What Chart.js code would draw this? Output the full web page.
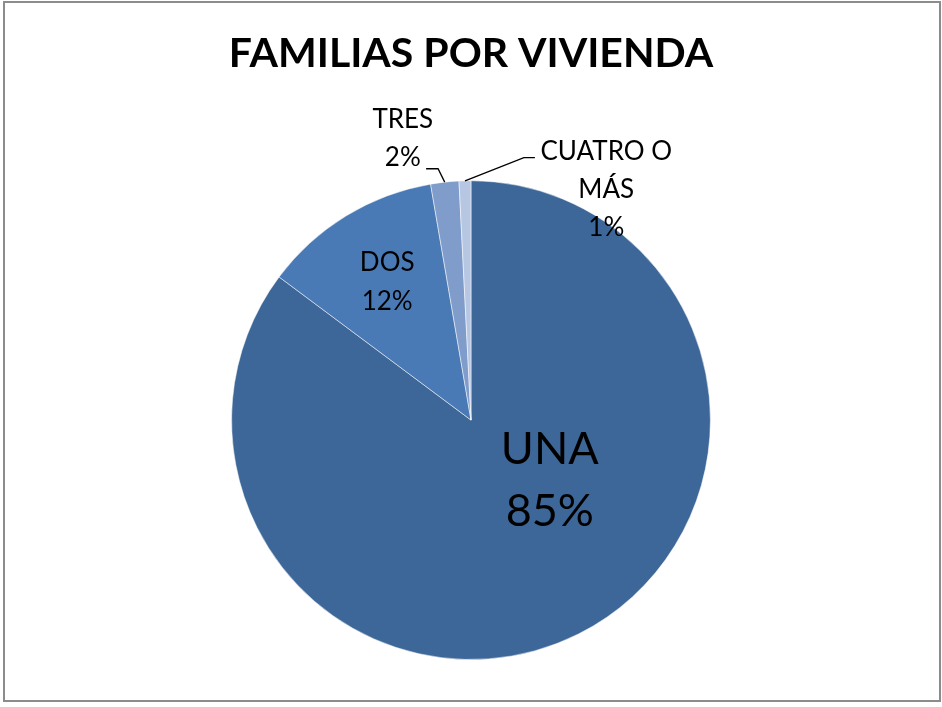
<!DOCTYPE html>
<html>
<head>
<meta charset="utf-8">
<style>
    html, body { margin: 0; padding: 0; background: #ffffff; }
    #wrap { width: 942px; height: 707px; position: relative; }
</style>
<script src="https://cdn.jsdelivr.net/npm/chart.js@4/dist/chart.umd.min.js"></script>
</head>
<body>
<div id="wrap"><canvas id="familiasChart" width="942" height="707"></canvas></div>
<script>
const categories = ['UNA', 'DOS', 'TRES', 'CUATRO O MÁS'];
const labelLines = [['UNA'], ['DOS'], ['TRES'], ['CUATRO O', 'MÁS']];
const values = [85.2, 12.1, 1.9, 0.8];
const sliceColors = ['#3d6798', '#4a7ab5', '#7f9ccb', '#b7c7e3'];

const FONT = 'Lato, "Open Sans", sans-serif';

// label placement, in units of the pie radius, relative to the pie centre
const placements = [
    { dx: 0.329, dy: 0.254, size: 45, lineHeight: 62 },
    { dx: -0.35, dy: -0.575, size: 26, lineHeight: 39 },
    { dx: -0.285, dy: -1.175, size: 26, lineHeight: 38, leader: [[-0.1375, -1.05], [-0.1875, -1.05]] },
    { dx: 0.565, dy: -0.9625, size: 26, lineHeight: 38, leader: [[0.221, -1.096], [0.267, -1.096]] }
];

const frame = {
    id: 'frame',
    beforeDraw(chart) {
        const ctx = chart.ctx;
        ctx.save();
        ctx.fillStyle = '#ffffff';
        ctx.fillRect(0, 0, chart.width, chart.height);
        ctx.strokeStyle = '#8c8c8c';
        ctx.lineWidth = 2;
        ctx.strokeRect(4, 2, 936, 699);
        ctx.restore();
    }
};

const sliceLabels = {
    id: 'sliceLabels',
    afterDatasetsDraw(chart) {
        const ctx = chart.ctx;
        const total = values.reduce((a, b) => a + b, 0);
        chart.getDatasetMeta(0).data.forEach((arc, i) => {
            const p = arc.getProps(['x', 'y', 'startAngle', 'endAngle', 'outerRadius'], true);
            const r = p.outerRadius;
            const spot = placements[i];
            ctx.save();
            if (spot.leader) {
                const mid = (p.startAngle + p.endAngle) / 2;
                ctx.beginPath();
                ctx.moveTo(p.x + Math.cos(mid) * r, p.y + Math.sin(mid) * r);
                spot.leader.forEach(([lx, ly]) => ctx.lineTo(p.x + lx * r, p.y + ly * r));
                ctx.strokeStyle = '#000000';
                ctx.lineWidth = 1.3;
                ctx.stroke();
            }
            const lines = labelLines[i].concat([Math.round(values[i] / total * 100) + '%']);
            const cx = p.x + spot.dx * r;
            const cy = p.y + spot.dy * r;
            ctx.fillStyle = '#000000';
            ctx.font = spot.size + 'px ' + FONT;
            ctx.textAlign = 'center';
            ctx.textBaseline = 'middle';
            lines.forEach((text, k) => {
                const ly = cy + (k - (lines.length - 1) / 2) * spot.lineHeight;
                ctx.fillText(text, cx, ly);
            });
            ctx.restore();
        });
    }
};

new Chart(document.getElementById('familiasChart'), {
    type: 'pie',
    data: {
        labels: categories,
        datasets: [{
            data: values,
            backgroundColor: sliceColors,
            borderColor: 'rgba(255,255,255,0.5)',
            borderWidth: 1
        }]
    },
    options: {
        responsive: false,
        animation: false,
        layout: { padding: { top: 0, bottom: 47, left: 0, right: 0 } },
        plugins: {
            legend: { display: false },
            tooltip: { enabled: false },
            title: {
                display: true,
                text: 'FAMILIAS POR VIVIENDA',
                color: '#000000',
                font: { family: FONT, size: 41, weight: 'bold', lineHeight: 1.2 },
                padding: { top: 29, bottom: 102 }
            }
        }
    },
    plugins: [frame, sliceLabels]
});
</script>
</body>
</html>
